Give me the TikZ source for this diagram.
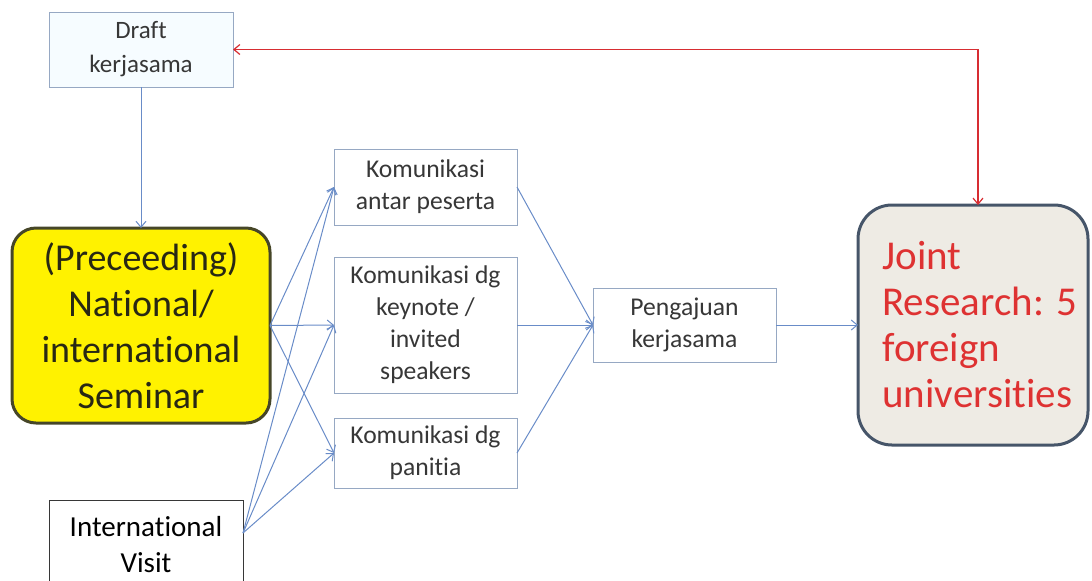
\documentclass[tikz,border=0pt]{standalone}
\usepackage{fontspec}
\setmainfont{Carlito}[Ligatures=NoCommon]
\usetikzlibrary{shapes,positioning,arrows.meta,calc}

\definecolor{boxline}{RGB}{150,168,195}
\definecolor{arrowblue}{RGB}{105,140,200}
\definecolor{textgrey}{RGB}{55,55,55}
\definecolor{semline}{RGB}{70,70,40}
\definecolor{semtext}{RGB}{40,40,20}
\definecolor{jointfill}{RGB}{238,235,228}
\definecolor{jointline}{RGB}{70,85,105}
\definecolor{jointred}{RGB}{222,50,50}
\definecolor{linkred}{RGB}{215,45,50}

\begin{document}
\begin{tikzpicture}[x=0.5pt,y=-0.5pt,
    >={Straight Barb[length=3pt,width=5pt]},
    smallbox/.style={draw=boxline, line width=0.5pt, fill=white,
        text=textgrey, align=center, inner sep=0pt, outer sep=0pt,
        minimum width=91.5pt, font=\fontsize{12.8}{16}\selectfont},
    bigbox/.style={line width=1.5pt, align=center, inner sep=0pt,
        outer sep=0pt, rounded corners=12pt},
    blueline/.style={draw=arrowblue, line width=0.5pt, ->},
    redline/.style={draw=linkred, line width=0.6pt, <->}]

        \useasboundingbox (0,0) rectangle (1092,580);
        \clip (0,0) rectangle (1092,580);

        \def\gap{16pt}

        % left column
        \node[smallbox, fill={rgb,255:red,246;green,252;blue,255},
            minimum width=92pt, minimum height=37.5pt,
            font=\fontsize{12.5}{17}\selectfont] (draft) at (141,49.5)
            {Draft\\kerjasama};
        \node[bigbox, draw=semline, fill=yellow, text=semtext,
            minimum width=129pt, minimum height=97.5pt,
            font=\fontsize{19}{23}\selectfont] (sem)
            [below=70.5pt of draft]
            {(Preceeding)\\National/\\international\\Seminar};
        \node[smallbox, draw=textgrey, text=black, minimum width=97pt,
            minimum height=45pt, font=\fontsize{14.5}{18}\selectfont] (visit)
            at (146,545) {International\\Visit};

        % middle column
        \node[smallbox, minimum height=38pt] (K1) at (425.5,187)
            {Komunikasi\\antar peserta};
        \node[smallbox, minimum height=68pt] (K2) [below=\gap of K1]
            {Komunikasi dg\\keynote /\\invited\\speakers};
        \node[smallbox, minimum height=35pt] (K3) [below=12.5pt of K2]
            {Komunikasi dg\\panitia};
        \node[smallbox, minimum height=37pt] (peng) [right=38pt of K2]
            {Pengajuan\\kerjasama};

        % right box
        \node[bigbox, draw=jointline, fill=jointfill, rounded corners=17pt,
            minimum width=115pt, minimum height=120pt] (joint)
            [right=41pt of peng] {};
        \node[anchor=west, align=left, text=jointred, inner sep=0pt,
            font=\fontsize{20.5}{23}\selectfont] (jointtxt)
            at ($(joint.west)+(24,0)$)
            {Joint\\Research: 5\\foreign\\universities};

        \begin{scope}[blueline]
            \draw (draft) -- (sem);
            \foreach \k in {K1,K2,K3}{
                \draw (sem.east) -- (\k.west);
                \draw ([yshift=6pt]visit.east) -- (\k.west);
                \draw (\k.east) -- (peng.west);
            }
            \draw (peng) -- (joint);
        \end{scope}

        \draw[redline] (draft.east) -| ([xshift=2.5pt]joint.north);

\end{tikzpicture}
\end{document}
